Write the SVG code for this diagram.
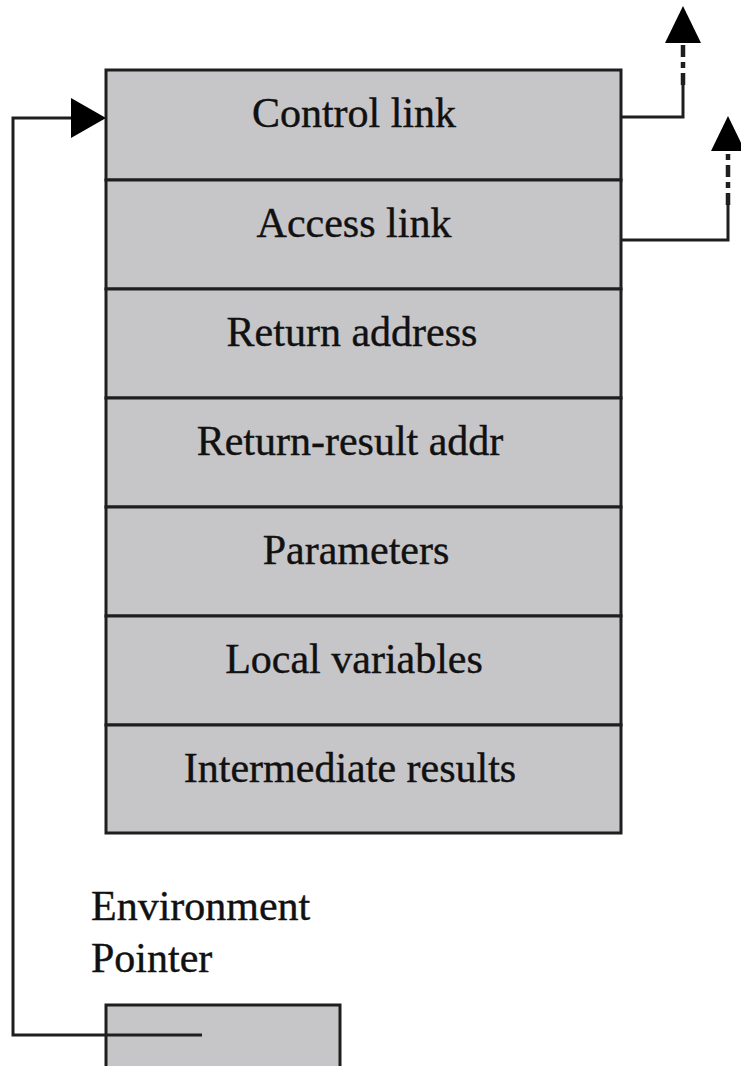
<svg xmlns="http://www.w3.org/2000/svg" width="741" height="1066" viewBox="0 0 741 1066">
<style>
.cell{fill:#c6c5c8;stroke:#1e1e1e;stroke-width:3}
.lbl{font-family:"Liberation Serif","Times New Roman",serif;font-size:42px;fill:#111;stroke:#111;stroke-width:0.4;text-anchor:middle}
.txt{font-family:"Liberation Serif","Times New Roman",serif;font-size:42px;fill:#111;stroke:#111;stroke-width:0.4}
.ln{fill:none;stroke:#1e1e1e;stroke-width:3}
.dash{fill:none;stroke:#1e1e1e;stroke-width:4.5;stroke-dasharray:12 5 6 5}
.head{fill:#000}
</style>
<rect width="741" height="1066" fill="#fff"/>
<g id="control-link"><rect class="cell" x="106" y="70" width="515" height="110"/><text class="lbl" x="354" y="127">Control link</text></g>
<g id="access-link"><rect class="cell" x="106" y="180" width="515" height="109"/><text class="lbl" x="354" y="237">Access link</text></g>
<g id="return-address"><rect class="cell" x="106" y="289" width="515" height="109"/><text class="lbl" x="352" y="346">Return address</text></g>
<g id="return-result-addr"><rect class="cell" x="106" y="398" width="515" height="109"/><text class="lbl" x="350" y="455">Return-result addr</text></g>
<g id="parameters"><rect class="cell" x="106" y="507" width="515" height="109"/><text class="lbl" x="356" y="564">Parameters</text></g>
<g id="local-variables"><rect class="cell" x="106" y="616" width="515" height="109"/><text class="lbl" x="354" y="673">Local variables</text></g>
<g id="intermediate-results"><rect class="cell" x="106" y="725" width="515" height="108"/><text class="lbl" x="350" y="782">Intermediate results</text></g>
<g id="environment-pointer"><text class="txt" x="91" y="920">Environment</text><text class="txt" x="91" y="972">Pointer</text><rect class="cell" x="106" y="1005" width="234" height="70"/></g>
<g id="connectors">
<path class="ln" d="M621 117 H683 V85"/>
<path class="dash" d="M683 85 V43"/>
<polygon class="head" points="683,6 665,43 701,43"/>
<path class="ln" d="M621 240 H728 V205"/>
<path class="dash" d="M728 205 V150"/>
<polygon class="head" points="728,116 711,151 745,151"/>
<path class="ln" d="M202 1035 H13 V118 H72"/>
<polygon class="head" points="106,118 71,98 71,138"/>
</g>
</svg>
